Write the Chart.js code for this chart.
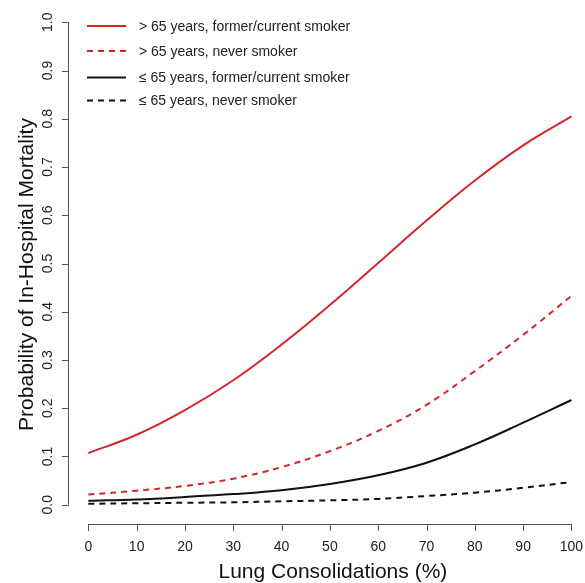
<!DOCTYPE html>
<html>
<head>
<meta charset="utf-8">
<script src="https://cdn.jsdelivr.net/npm/chart.js@4"></script>
<style>
  html, body { margin: 0; padding: 0; background: #fff; overflow: hidden; }
  #wrap { width: 585px; height: 583px; }
</style>
</head>
<body>
<div id="wrap"><canvas id="chart" width="585" height="583"></canvas></div>
<script>
// data
const consolidation = [0, 10, 20, 30, 40, 50, 60, 70, 80, 90, 100];
const olderSmoker   = [0.107, 0.145, 0.196, 0.258, 0.332, 0.414, 0.501, 0.589, 0.672, 0.745, 0.805];
const olderNever    = [0.021, 0.029, 0.039, 0.054, 0.078, 0.111, 0.153, 0.207, 0.277, 0.352, 0.433];
const youngSmoker   = [0.008, 0.011, 0.016, 0.022, 0.030, 0.043, 0.061, 0.087, 0.125, 0.170, 0.217];
const youngNever    = [0.002, 0.003, 0.004, 0.005, 0.007, 0.009, 0.012, 0.018, 0.025, 0.035, 0.047];

const seriesLabels = [
  '> 65 years, former/current smoker',
  '> 65 years, never smoker',
  '\u2264 65 years, former/current smoker',
  '\u2264 65 years, never smoker'
];
const xTicks = [0, 10, 20, 30, 40, 50, 60, 70, 80, 90, 100];
const yTicks = [0.0, 0.1, 0.2, 0.3, 0.4, 0.5, 0.6, 0.7, 0.8, 0.9, 1.0];

const RED = '#d7262b';
const BLACK = '#111111';
const FONT = '"Liberation Sans", Arial, Helvetica, sans-serif';

function toPoints(ys) {
  return consolidation.map((x, i) => ({ x: x, y: ys[i] }));
}

// R-style axes, tick labels, titles and legend
const rAxes = {
  id: 'rAxes',
  afterDraw(chart) {
    const ctx = chart.ctx;
    const xs = chart.scales.x, ys = chart.scales.y;
    const area = chart.chartArea;
    const axisY = area.bottom, axisX = area.left;
    ctx.save();
    ctx.strokeStyle = '#555';
    ctx.lineWidth = 1;
    ctx.fillStyle = '#222';

    // x axis
    const x0 = xs.getPixelForValue(xTicks[0]);
    const x1 = xs.getPixelForValue(xTicks[xTicks.length - 1]);
    ctx.beginPath();
    ctx.moveTo(x0, axisY + 0.5); ctx.lineTo(x1, axisY + 0.5);
    xTicks.forEach(v => {
      const p = Math.round(xs.getPixelForValue(v)) + 0.5;
      ctx.moveTo(p, axisY); ctx.lineTo(p, axisY + 7);
    });
    ctx.stroke();
    ctx.font = '14px ' + FONT;
    ctx.textAlign = 'center';
    ctx.textBaseline = 'alphabetic';
    xTicks.forEach(v => ctx.fillText(String(v), xs.getPixelForValue(v), 550.5));

    // y axis
    const y0 = ys.getPixelForValue(yTicks[0]);
    const y1 = ys.getPixelForValue(yTicks[yTicks.length - 1]);
    ctx.beginPath();
    ctx.moveTo(axisX - 0.5, y0); ctx.lineTo(axisX - 0.5, y1);
    yTicks.forEach(v => {
      const p = Math.round(ys.getPixelForValue(v)) + 0.5;
      ctx.moveTo(axisX, p); ctx.lineTo(axisX - 7, p);
    });
    ctx.stroke();
    yTicks.forEach(v => {
      ctx.save();
      ctx.translate(52, ys.getPixelForValue(v));
      ctx.rotate(-Math.PI / 2);
      ctx.fillText(v.toFixed(1), 0, 0);
      ctx.restore();
    });

    // titles
    ctx.fillStyle = '#111';
    ctx.font = '21px ' + FONT;
    ctx.fillText('Lung Consolidations (%)', (x0 + x1) / 2 + 3, 578);
    ctx.save();
    ctx.translate(33, (y0 + y1) / 2 + 11);
    ctx.rotate(-Math.PI / 2);
    ctx.fillText('Probability of In-Hospital Mortality', 0, 0);
    ctx.restore();

    // legend
    const rows = [26, 51, 77.5, 100.5];
    ctx.font = '14px ' + FONT;
    ctx.textAlign = 'left';
    ctx.textBaseline = 'middle';
    chart.data.datasets.forEach((ds, i) => {
      ctx.beginPath();
      ctx.strokeStyle = ds.borderColor;
      ctx.lineWidth = 2;
      ctx.setLineDash(ds.borderDash || []);
      ctx.moveTo(87, rows[i]); ctx.lineTo(126, rows[i]);
      ctx.stroke();
      ctx.setLineDash([]);
      ctx.fillStyle = '#222';
      ctx.fillText(seriesLabels[i], 139, rows[i] + 1);
    });
    ctx.restore();
  }
};

const datasets = [
  { label: seriesLabels[0], data: toPoints(olderSmoker), borderColor: RED, borderDash: [] },
  { label: seriesLabels[1], data: toPoints(olderNever), borderColor: RED, borderDash: [6, 5] },
  { label: seriesLabels[2], data: toPoints(youngSmoker), borderColor: BLACK, borderDash: [] },
  { label: seriesLabels[3], data: toPoints(youngNever), borderColor: BLACK, borderDash: [6, 5] }
].map(d => Object.assign(d, {
  borderWidth: 2,
  pointRadius: 0,
  fill: false,
  tension: 0.4
}));

new Chart(document.getElementById('chart'), {
  type: 'line',
  data: { datasets: datasets },
  options: {
    responsive: false,
    animation: false,
    layout: { padding: { left: 69, top: 3, bottom: 59, right: 0 } },
    plugins: { legend: { display: false }, tooltip: { enabled: false } },
    scales: {
      x: { type: 'linear', min: -4, max: 102.8, display: false },
      y: { type: 'linear', min: -0.04, max: 1.04, display: false }
    }
  },
  plugins: [rAxes]
});
</script>
</body>
</html>
